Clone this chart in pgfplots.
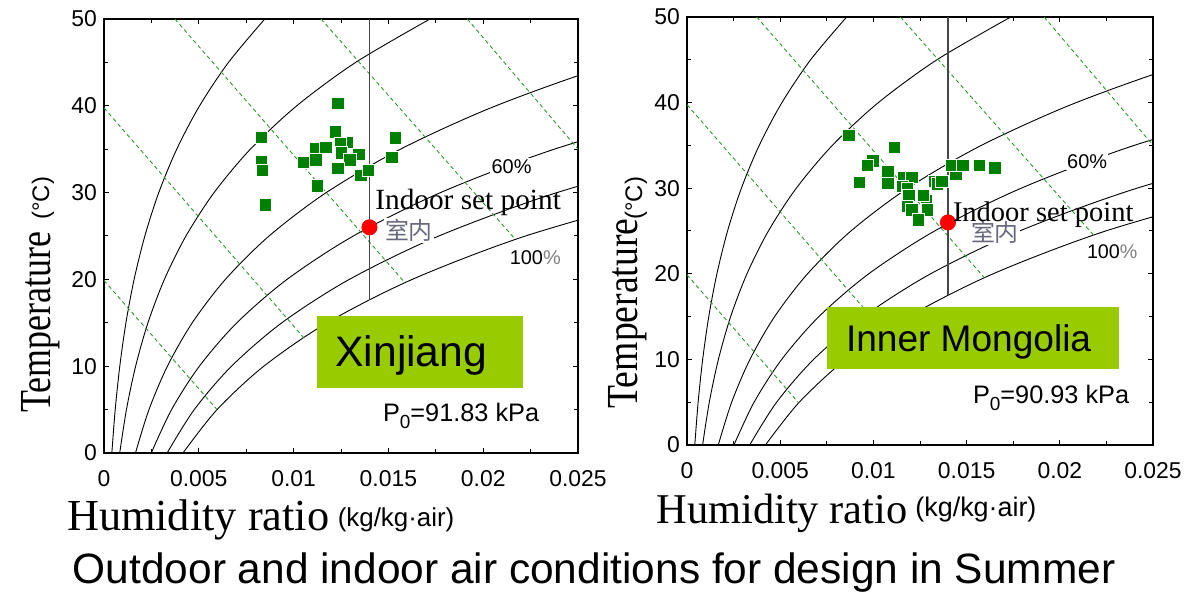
\documentclass[border=0pt]{standalone}
\usepackage{pgfplots}
\pgfplotsset{compat=1.18}
\usepackage{fontspec}
\setmainfont{Liberation Serif}
\setsansfont{Liberation Sans}
\newfontfamily\cjk{Noto Sans CJK SC}
\definecolor{ptgreen}{RGB}{0,128,0}
\definecolor{hgreen}{RGB}{50,150,50}
\definecolor{boxgreen}{RGB}{153,204,0}
\definecolor{cjkgray}{RGB}{105,105,125}
\definecolor{vline}{RGB}{70,70,70}

\pgfplotsset{
  psy/.style={
    scale only axis, anchor=south west,
    xmin=0, xmax=0.025, ymin=0, ymax=50,
    xtick={0,0.005,0.01,0.015,0.02,0.025},
    xticklabels={0,0.005,0.01,0.015,0.02,0.025},
    ytick={0,10,20,30,40,50},
    yticklabels={0,10,20,30,40,50},
    scaled x ticks=false,
    minor x tick num=1, minor y tick num=1,
    tick align=inside,
    major tick length=2.5bp, minor tick length=2.2bp,
    tick style={black, line width=0.5bp},
    axis line style={line width=0.7bp},
    ticklabel style={font=\sffamily\fontsize{11.5}{12}\selectfont},
    xticklabel style={yshift=-5bp},
  },
  rh/.style={black, line width=0.45bp, smooth, no markers},
  hl/.style={hgreen, line width=0.45bp, dash pattern=on 2bp off 1.5bp, no markers},
  pts/.style={only marks, mark=square*, mark size=3.1bp,
    mark options={fill=ptgreen, draw=white, line width=0.3bp}},
  setpt/.style={only marks, mark=*, mark size=3.8bp, color=red},
}

\begin{document}
\begin{tikzpicture}
\useasboundingbox (0,0) rectangle (598bp,298.5bp);

% ---------------- Xinjiang, P0 = 91.83 kPa ----------------
\begin{axis}[psy, width=237bp, height=217bp, at={(52bp,72bp)}]
% relative humidity 10, 20, 40, 60, 80, 100 %
\addplot[rh] coordinates {(0.000414,0) (0.000591,5) (0.000833,10) (0.001157,15) (0.001588,20) (0.002154,25) (0.002889,30) (0.003836,35) (0.005042,40) (0.006566,45) (0.008479,50)};
\addplot[rh] coordinates {(0.000829,0) (0.001184,5) (0.001668,10) (0.002318,15) (0.003185,20) (0.004323,25) (0.005806,30) (0.007719,35) (0.010166,40) (0.013273,45) (0.017193,50)};
\addplot[rh] coordinates {(0.001660,0) (0.002372,5) (0.003345,10) (0.004654,15) (0.006402,20) (0.008706,25) (0.011721,30) (0.015632,35) (0.020671,40) (0.027124,45) (0.035363,50)};
\addplot[rh] coordinates {(0.002493,0) (0.003564,5) (0.005031,10) (0.007007,15) (0.009653,20) (0.013151,25) (0.017748,30) (0.023746,35) (0.031530,40)};
\addplot[rh] coordinates {(0.003329,0) (0.004761,5) (0.006726,10) (0.009378,15) (0.012938,20) (0.017659,25) (0.023892,30) (0.032069,35)};
\addplot[rh] coordinates {(0.004166,0) (0.005963,5) (0.008430,10) (0.011767,15) (0.016257,20) (0.022232,25) (0.030154,30)};
% enthalpy 20 ... 100 kJ/kg
\addplot[hl] coordinates {(0,19.88) (0.005963,5.0)};
\addplot[hl] coordinates {(0,39.76) (0.01053,13.3)};
\addplot[hl] coordinates {(0.003739,50) (0.01588,19.6)};
\addplot[hl] coordinates {(0.011449,50) (0.0217,24.6)};
\addplot[hl] coordinates {(0.01916,50) (0.02754,28.5)};
\addplot[vline, line width=0.7bp] coordinates {(0.014,17.6) (0.014,50)};
\addplot[pts] coordinates {
  (0.01233,40.3) (0.00830,36.4) (0.01536,36.3) (0.01220,37.0) (0.01282,35.8)
  (0.01245,35.6) (0.01113,35.1) (0.01169,35.2) (0.01250,34.6) (0.01343,34.4)
  (0.01517,34.1) (0.00830,33.6) (0.00835,32.6) (0.01051,33.5) (0.01118,33.8)
  (0.01297,33.8) (0.01233,32.8) (0.01355,32.0) (0.01394,32.6) (0.01125,30.8)
  (0.00851,28.6)};
\addplot[setpt] coordinates {(0.014,26)};
\end{axis}

% ---------------- Inner Mongolia, P0 = 90.93 kPa ----------------
\begin{axis}[psy, width=233bp, height=214bp, at={(343.5bp,76bp)}]
\addplot[rh] coordinates {(0.000418,0) (0.000597,5) (0.000841,10) (0.001168,15) (0.001604,20) (0.002175,25) (0.002918,30) (0.003874,35) (0.005092,40) (0.006631,45) (0.008564,50)};
\addplot[rh] coordinates {(0.000837,0) (0.001196,5) (0.001685,10) (0.002341,15) (0.003217,20) (0.004366,25) (0.005864,30) (0.007796,35) (0.010267,40) (0.013406,45) (0.017366,50)};
\addplot[rh] coordinates {(0.001677,0) (0.002396,5) (0.003378,10) (0.004700,15) (0.006466,20) (0.008793,25) (0.011839,30) (0.015791,35) (0.020882,40) (0.027404,45) (0.035733,50)};
\addplot[rh] coordinates {(0.002518,0) (0.003600,5) (0.005081,10) (0.007077,15) (0.009750,20) (0.013284,25) (0.017929,30) (0.023990,35) (0.031858,40)};
\addplot[rh] coordinates {(0.003362,0) (0.004809,5) (0.006793,10) (0.009472,15) (0.013069,20) (0.017839,25) (0.024138,30) (0.032403,35)};
\addplot[rh] coordinates {(0.004207,0) (0.006023,5) (0.008515,10) (0.011886,15) (0.016422,20) (0.022460,25) (0.030467,30)};
\addplot[hl] coordinates {(0,19.88) (0.00598,4.95)};
\addplot[hl] coordinates {(0,39.76) (0.01058,13.25)};
\addplot[hl] coordinates {(0.003739,50) (0.01595,19.55)};
\addplot[hl] coordinates {(0.011449,50) (0.0218,24.55)};
\addplot[hl] coordinates {(0.01916,50) (0.02754,28.5)};
\addplot[vline, line width=0.7bp] coordinates {(0.014,17.5) (0.014,50)};
\addplot[pts] coordinates {
  (0.00869,36.2) (0.01111,34.8) (0.00996,33.2) (0.00967,32.7) (0.00923,30.7)
  (0.01077,31.9) (0.01077,30.6) (0.01161,31.2) (0.01205,31.3) (0.01155,30.2)
  (0.01182,30.0) (0.01327,30.8) (0.01343,30.5) (0.01366,30.8) (0.01443,31.7)
  (0.01420,32.7) (0.01479,32.7) (0.01567,32.7) (0.01652,32.4) (0.01284,28.6)
  (0.01189,29.2) (0.01268,29.2) (0.01182,27.9) (0.01205,27.5) (0.01289,27.5)
  (0.01241,26.3)};
\addplot[setpt] coordinates {(0.014,26)};
\end{axis}

% labels inside the charts
\fill[boxgreen] (158.3bp,104.7bp) rectangle (261.7bp,140.5bp);
\fill[boxgreen] (413.7bp,113.9bp) rectangle (559.7bp,145.2bp);
\node[anchor=base west, inner sep=0, font=\sffamily\fontsize{21.4}{24}\selectfont] at (167.5bp,115.2bp) {Xinjiang};
\node[anchor=base west, inner sep=0, font=\sffamily\fontsize{18.6}{22}\selectfont] at (422.8bp,122.7bp) {Inner Mongolia};
\node[anchor=base west, inner sep=0, font=\sffamily\fontsize{12.7}{14}\selectfont] at (191.3bp,87.7bp) {P\raisebox{-0.28em}{\fontsize{9.5}{10}\selectfont 0}=91.83 kPa};
\node[anchor=base west, inner sep=0, font=\sffamily\fontsize{12.7}{14}\selectfont] at (486.3bp,96.8bp) {P\raisebox{-0.28em}{\fontsize{9.5}{10}\selectfont 0}=90.93 kPa};

\node[anchor=base west, inner sep=0.6bp, fill=white, font=\sffamily\fontsize{10}{12}\selectfont] at (245bp,211.8bp) {60\%};
\node[anchor=base west, inner sep=0, font=\sffamily\fontsize{10}{12}\selectfont] at (254.7bp,166bp) {100{\color{gray}\%}};
\node[anchor=base west, inner sep=0.6bp, fill=white, font=\sffamily\fontsize{10}{12}\selectfont] at (532.8bp,214.3bp) {60\%};
\node[anchor=base west, inner sep=0, font=\sffamily\fontsize{9.9}{12}\selectfont] at (543.3bp,169.3bp) {100{\color{gray}\%}};

\node[anchor=base west, inner sep=0.6bp, fill=white, text=cjkgray, font=\cjk\fontsize{12}{14}\selectfont] at (191.7bp,178.5bp) {室内};
\node[anchor=base west, inner sep=0.6bp, fill=white, text=cjkgray, font=\cjk\fontsize{12}{14}\selectfont] at (484.7bp,177.5bp) {室内};
\node[anchor=base west, inner sep=0, font=\fontsize{14.7}{16}\selectfont] at (187.5bp,193.8bp) {Indoor set point};
\node[anchor=base west, inner sep=0, font=\fontsize{14.3}{16}\selectfont] at (476.3bp,187.5bp) {Indoor set point};

% axis titles
\node[rotate=90, anchor=base, inner sep=0, font=\fontsize{22.25}{24}\selectfont] at (25bp,137.3bp) {\scalebox{0.81}[1]{Temperature}};
\node[rotate=90, anchor=base, inner sep=0, font=\sffamily\fontsize{12}{14}\selectfont] at (24.5bp,199.3bp) {(°C)};
\node[rotate=90, anchor=base, inner sep=0, font=\fontsize{22.25}{24}\selectfont] at (318.5bp,141.75bp) {\scalebox{0.85}[1]{Temperature}};
\node[rotate=90, anchor=base, inner sep=0, font=\sffamily\fontsize{12}{14}\selectfont] at (321bp,199.3bp) {(°C)};

\node[anchor=base west, inner sep=0, font=\fontsize{22.25}{24}\selectfont] at (33.3bp,33.5bp) {Humidity ratio};
\node[anchor=base west, inner sep=0, font=\sffamily\fontsize{13}{14}\selectfont] at (168.7bp,35.5bp) {(kg/kg·air)};
\node[anchor=base west, inner sep=0, font=\fontsize{21.3}{24}\selectfont] at (328bp,37bp) {Humidity ratio};
\node[anchor=base west, inner sep=0, font=\sffamily\fontsize{13.5}{14}\selectfont] at (457.5bp,40bp) {(kg/kg·air)};

\node[anchor=base west, inner sep=0, font=\sffamily\fontsize{21.3}{24}\selectfont] at (36.2bp,7bp) {Outdoor and indoor air conditions for design in Summer};
\end{tikzpicture}
\end{document}
